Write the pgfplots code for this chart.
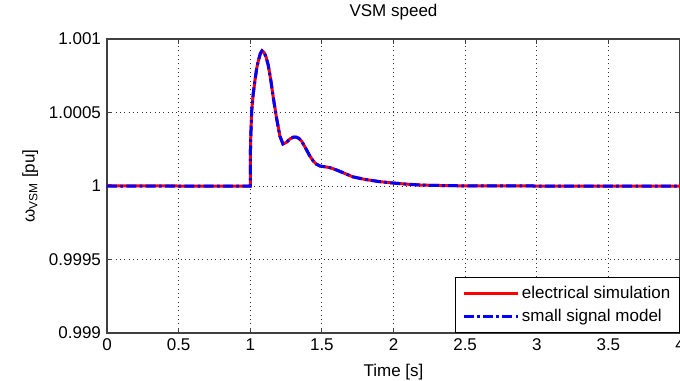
\documentclass[border=0pt]{standalone}
\usepackage{pgfplots}
\pgfplotsset{compat=1.18}
\usepackage{fontspec}
\setmainfont{Liberation Sans}
\pgfplotstableread{
t v
0 1.000003
0.05 1.000001
0.1 1.0
0.3 1.000001
0.5 1.0
0.995 1.0
1.0 1.0
1.002 1.00029
1.01 1.00051
1.02 1.00062
1.033 1.00072
1.045 1.00080
1.056 1.00085
1.07 1.00090
1.082 1.00092
1.095 1.00091
1.11 1.00088
1.126 1.00082
1.145 1.00071
1.161 1.00060
1.184 1.00046
1.207 1.00034
1.228 1.000286
1.25 1.000295
1.277 1.00032
1.30 1.000332
1.319 1.000333
1.338 1.000325
1.358 1.000306
1.385 1.00026
1.416 1.000204
1.44 1.00017
1.463 1.000148
1.486 1.000136
1.52 1.000131
1.556 1.000125
1.6 1.00011
1.649 1.00009
1.717 1.000062
1.8 1.000045
1.9 1.00003
2.0 1.00002
2.1 1.000012
2.2 1.000006
2.35 1.000003
2.5 1.000001
3 1.0
4 1.0
}\elec
\pgfplotstableread{
t v
0 1.0
0.5 1.0
0.995 1.0
1.0 1.0
1.002 1.00029
1.01 1.00051
1.02 1.00062
1.033 1.00072
1.045 1.00080
1.056 1.00085
1.07 1.00090
1.082 1.00092
1.095 1.00091
1.11 1.00088
1.126 1.00082
1.145 1.00071
1.161 1.00060
1.184 1.00046
1.207 1.00034
1.228 1.000286
1.25 1.000295
1.277 1.00032
1.30 1.000332
1.319 1.000333
1.338 1.000325
1.358 1.000306
1.385 1.00026
1.416 1.000204
1.44 1.00017
1.463 1.000148
1.486 1.000136
1.52 1.000131
1.556 1.000125
1.6 1.00011
1.649 1.00009
1.717 1.000062
1.8 1.000045
1.9 1.00003
2.0 1.00002
2.1 1.000012
2.2 1.000006
2.35 1.000003
2.5 1.000001
3 1.0
4 1.0
}\ssm
\begin{document}
\begin{tikzpicture}
\begin{axis}[
  scale only axis,
  width=429.75pt, height=220.5pt,
  xmin=0, xmax=4, ymin=0.999, ymax=1.001,
  xtick={0,0.5,1,1.5,2,2.5,3,3.5,4},
  xticklabels={0,0.5,1,1.5,2,2.5,3,3.5,4},
  ytick={0.999,0.9995,1,1.0005,1.001},
  yticklabels={0.999,0.9995,1,1.0005,1.001},
  font=\fontsize{12.75}{15}\selectfont,
  tick label style={font=\fontsize{12.75}{15}\selectfont},
  tick align=inside, tick pos=both,
  major tick length=3.5pt,
  every tick/.style={black!75, line width=0.6pt},
  axis line style={black!75, line width=0.9pt},
  grid=major,
  major grid style={black!80, line width=0.6pt, dash pattern=on 0.75pt off 2.5pt},
  title={VSM speed},
  title style={at={(axis description cs:0.5,1.065)}, anchor=center},
  xlabel={Time [s]},
  xlabel style={at={(axis description cs:0.5,-0.133)}, anchor=center},
  ylabel={ω\textsubscript{VSM} [pu]},
  ylabel style={at={(axis description cs:-0.134,0.5)}, anchor=center, rotate=0},
  xticklabel style={yshift=-1pt},
  yticklabel style={xshift=-1pt},
  legend cell align=left,
  legend style={at={(1,0)}, anchor=south east, draw=black, line width=0.6pt, fill=white,
    font=\fontsize{12.75}{15}\selectfont, inner xsep=5pt, inner ysep=4.5pt, row sep=3pt},
  legend image code/.code={\draw[#1] (0pt,0pt) -- (40.5pt,0pt);},
]
\addplot[red, line width=2.25pt] table[x=t,y=v] {\elec};
\addlegendentry{electrical simulation}
\addplot[blue, line width=2.25pt, dash pattern=on 7.5pt off 2.5pt on 2pt off 2.5pt] table[x=t,y=v] {\ssm};
\addlegendentry{small signal model}
\end{axis}
\pgfresetboundingbox
\path[use as bounding box] ([xshift=-80.25pt,yshift=-35.25pt]current axis.south west) rectangle ([yshift=29.25pt]current axis.north east);
\end{tikzpicture}
\end{document}
